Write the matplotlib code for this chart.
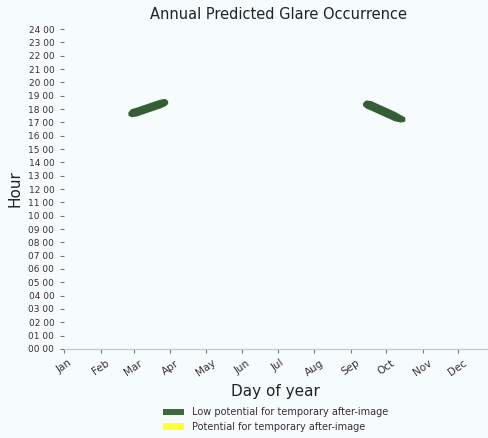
import numpy as np
import matplotlib
matplotlib.use("Agg")
import matplotlib.pyplot as plt
from matplotlib.patches import Patch

months = ["Jan", "Feb", "Mar", "Apr", "May", "Jun", "Jul", "Aug", "Sep", "Oct", "Nov", "Dec"]
month_days = [1, 32, 60, 91, 121, 152, 182, 213, 244, 274, 305, 335]
hour_labels = ["%02d 00" % h for h in range(25)]

# glare blob in spring (day of year, lower / upper hour)
days_spring = [56, 58, 62, 67, 72, 77, 82, 86, 88]
lo_spring = [17.6, 17.5, 17.55, 17.7, 17.85, 18.0, 18.15, 18.3, 18.45]
hi_spring = [17.75, 17.95, 18.05, 18.2, 18.35, 18.5, 18.65, 18.72, 18.6]

# glare blob in autumn
days_autumn = [255, 257, 261, 266, 271, 276, 281, 286, 289]
lo_autumn = [18.3, 18.15, 18.0, 17.8, 17.6, 17.4, 17.2, 17.1, 17.15]
hi_autumn = [18.45, 18.6, 18.55, 18.35, 18.15, 17.95, 17.75, 17.5, 17.35]

bg = "#f6fbfc"
green = "#345f34"
txt = "#3a2f33"

fig = plt.figure(figsize=(4.88, 4.38), dpi=100, facecolor=bg)
ax = fig.add_axes([64/488, 89/438, (487-64)/488, 320/438], facecolor=bg)

ax.fill_between(days_spring, lo_spring, hi_spring, color=green, lw=1.5, edgecolor=green, joinstyle="round")
ax.fill_between(days_autumn, lo_autumn, hi_autumn, color=green, lw=1.5, edgecolor=green, joinstyle="round")

ax.set_ylim(0, 24)
ax.set_xlim(1, 1 + (487-64)/1.1796)
ax.set_yticks(range(25))
ax.set_yticklabels(hour_labels, fontsize=6.5, color=txt)
ax.set_xticks(month_days)
ax.set_xticklabels(months, rotation=35, fontsize=7.5, color=txt)
ax.tick_params(axis="y", length=3, color="#777777", pad=4)
ax.tick_params(axis="x", length=3, color="#777777")

for s in ["top", "right", "left"]:
    ax.spines[s].set_visible(False)
ax.spines["bottom"].set_color("#e0b8c4")
ax.spines["bottom"].set_linewidth(0.8)

ax.set_title("Annual Predicted Glare Occurrence", fontsize=10.5, color="#222222", x=0.506, pad=7)
ax.set_ylabel("Hour", fontsize=11, color="#222222", labelpad=4)
ax.set_xlabel("Day of year", fontsize=11, color="#222222", labelpad=4)

handles = [Patch(facecolor="#3f6a3f", edgecolor="none"),
           Patch(facecolor="#ffff33", edgecolor="none")]
fig.legend(handles, ["Low potential for temporary after-image", "Potential for temporary after-image"],
           loc="lower center", bbox_to_anchor=(0.565, 0.0), frameon=False, fontsize=7,
           handlelength=2.2, handleheight=0.7, labelcolor=txt, borderaxespad=0.2)

fig.savefig("out.png", dpi=100, facecolor=bg)
